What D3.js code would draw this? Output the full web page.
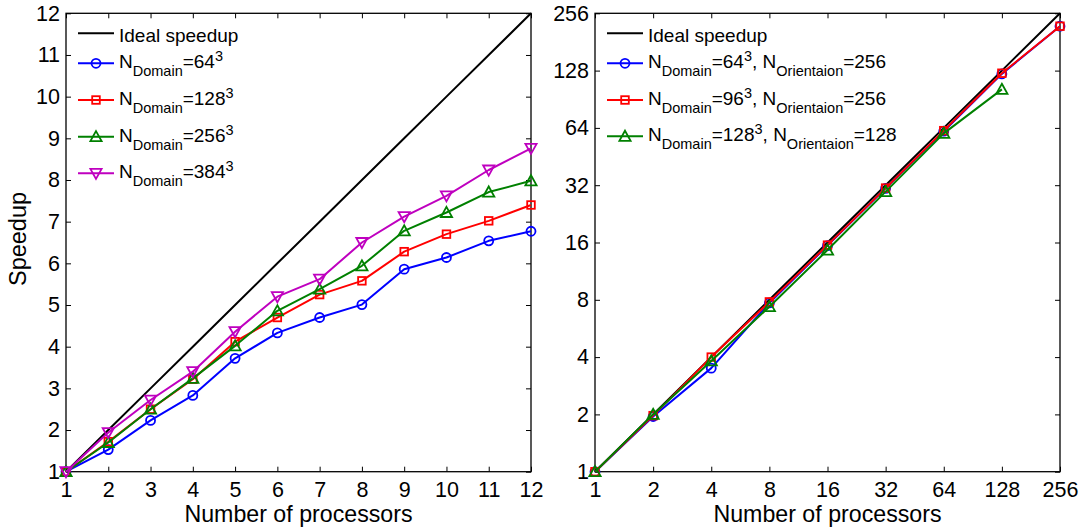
<!DOCTYPE html>
<html>
<head>
<meta charset="utf-8">
<script src="https://d3js.org/d3.v7.min.js"></script>
<style>
  html, body { margin: 0; padding: 0; background: #fff; }
  svg text { font-family: "Liberation Sans", Arial, sans-serif; fill: #000; }
</style>
</head>
<body>
<svg id="chart" width="1085" height="529"></svg>
<script>
// ---------- data ----------
const procsLeft = [1, 2, 3, 4, 5, 6, 7, 8, 9, 10, 11, 12];
const speedup64 = [1, 1.53, 2.23, 2.83, 3.72, 4.33, 4.70, 5.01, 5.86, 6.14, 6.54, 6.77];
const speedup128 = [1, 1.72, 2.50, 3.22, 4.12, 4.70, 5.25, 5.58, 6.28, 6.70, 7.02, 7.40];
const speedup256 = [1, 1.70, 2.50, 3.24, 4.02, 4.86, 5.38, 5.94, 6.78, 7.22, 7.71, 7.98];
const speedup384 = [1, 1.94, 2.72, 3.40, 4.36, 5.20, 5.62, 6.50, 7.12, 7.62, 8.24, 8.76];
const leftTicksX = [1, 2, 3, 4, 5, 6, 7, 8, 9, 10, 11, 12];
const leftTicksY = [1, 2, 3, 4, 5, 6, 7, 8, 9, 10, 11, 12];

const procsRight = [1, 2, 4, 8, 16, 32, 64, 128, 256];
const rSpeedup64 = [1, 1.95, 3.5, 7.7, 15.4, 30.8, 61.5, 123, 219];
const rSpeedup96 = [1, 1.97, 4.0, 7.8, 15.5, 30.9, 61.9, 124, 219];
const procsRight128 = [1, 2, 4, 8, 16, 32, 64, 128];
const rSpeedup128 = [1, 2.0, 3.82, 7.36, 14.6, 29.6, 59.9, 102];
const rightTicks = [1, 2, 4, 8, 16, 32, 64, 128, 256];

const leftLegend = ["64", "128", "256", "384"];
const rightLegendDomain = ["64", "96", "128"];
const rightLegendOrient = ["256", "256", "128"];

// ---------- setup ----------
const svg = d3.select("#chart");
const TOP = 13.3, BOTTOM = 471.7;
const colors = { blue: "#0000ff", red: "#ff0000", green: "#008000", mag: "#bf00bf" };

const xL = d3.scaleLinear().domain([1, 12]).range([66, 531]);
const yL = d3.scaleLinear().domain([1, 12]).range([BOTTOM, TOP]);
const xR = d3.scaleLog().base(2).domain([1, 256]).range([595, 1060]);
const yR = d3.scaleLog().base(2).domain([1, 256]).range([BOTTOM, TOP]);

function drawAxes(x, y, tx, ty) {
  const g = svg.append("g");
  const [x0, x1] = x.range();
  g.append("g").attr("transform", `translate(0,${BOTTOM})`)
    .call(d3.axisBottom(x).tickValues(tx).tickFormat(d3.format("d")).tickSize(-5).tickPadding(10.5));
  g.append("g").attr("transform", `translate(0,${TOP})`)
    .call(d3.axisTop(x).tickValues(tx).tickFormat("").tickSize(-5));
  g.append("g").attr("transform", `translate(${x0},0)`)
    .call(d3.axisLeft(y).tickValues(ty).tickFormat(d3.format("d")).tickSize(-5).tickPadding(6));
  g.append("g").attr("transform", `translate(${x1},0)`)
    .call(d3.axisRight(y).tickValues(ty).tickFormat("").tickSize(-5));
  g.selectAll(".domain").remove();
  g.selectAll(".tick line").attr("stroke", "#000").attr("stroke-width", 1);
  g.selectAll(".tick text").attr("font-size", 21.5).attr("fill", "#000")
    .style("font-family", '"Liberation Sans", Arial, sans-serif');
  g.append("rect").attr("x", x0).attr("y", TOP).attr("width", x1 - x0).attr("height", BOTTOM - TOP)
    .attr("fill", "none").attr("stroke", "#000").attr("stroke-width", 1.3);
}

function marker(g, type, cx, cy, color) {
  if (type === "circle") {
    g.append("circle").attr("cx", cx).attr("cy", cy).attr("r", 4.5)
      .attr("fill", "none").attr("stroke", color).attr("stroke-width", 1.8);
  } else if (type === "square") {
    g.append("rect").attr("x", cx - 3.8).attr("y", cy - 3.8).attr("width", 7.6).attr("height", 7.6)
      .attr("fill", "none").attr("stroke", color).attr("stroke-width", 1.8);
  } else if (type === "up") {
    const s = 5.6;
    g.append("path").attr("d", `M${cx},${cy - s} L${cx + s},${cy + s * 0.8} L${cx - s},${cy + s * 0.8} Z`)
      .attr("fill", "none").attr("stroke", color).attr("stroke-width", 1.8);
  } else if (type === "down") {
    const s = 5.6;
    g.append("path").attr("d", `M${cx},${cy + s} L${cx + s},${cy - s * 0.8} L${cx - s},${cy - s * 0.8} Z`)
      .attr("fill", "none").attr("stroke", color).attr("stroke-width", 1.8);
  }
}

function series(x, y, xs, ys, color, mk) {
  const g = svg.append("g");
  const line = d3.line().x((d, i) => x(xs[i])).y(d => y(d));
  g.append("path").datum(ys).attr("d", line).attr("fill", "none")
    .attr("stroke", color).attr("stroke-width", 2).attr("stroke-linejoin", "round");
  ys.forEach((v, i) => marker(g, mk, x(xs[i]), y(v), color));
}

// ---------- left panel ----------
drawAxes(xL, yL, leftTicksX, leftTicksY);
svg.append("path").datum(procsLeft)
  .attr("d", d3.line().x(d => xL(d)).y(d => yL(d)))
  .attr("fill", "none").attr("stroke", "#000").attr("stroke-width", 2);
series(xL, yL, procsLeft, speedup64, colors.blue, "circle");
series(xL, yL, procsLeft, speedup128, colors.red, "square");
series(xL, yL, procsLeft, speedup256, colors.green, "up");
series(xL, yL, procsLeft, speedup384, colors.mag, "down");

// ---------- right panel ----------
drawAxes(xR, yR, rightTicks, rightTicks);
svg.append("path").datum(procsRight)
  .attr("d", d3.line().x(d => xR(d)).y(d => yR(d)))
  .attr("fill", "none").attr("stroke", "#000").attr("stroke-width", 2);
series(xR, yR, procsRight, rSpeedup64, colors.blue, "circle");
series(xR, yR, procsRight, rSpeedup96, colors.red, "square");
series(xR, yR, procsRight128, rSpeedup128, colors.green, "up");

// ---------- axis titles ----------
svg.append("text").attr("x", (xL.range()[0] + xL.range()[1]) / 2).attr("y", 522)
  .attr("text-anchor", "middle").attr("font-size", 23.2).text("Number of processors");
svg.append("text").attr("x", (xR.range()[0] + xR.range()[1]) / 2).attr("y", 522)
  .attr("text-anchor", "middle").attr("font-size", 23.2).text("Number of processors");
svg.append("text").attr("transform", "translate(26,239) rotate(-90)")
  .attr("text-anchor", "middle").attr("font-size", 23.5).text("Speedup");

// ---------- legends ----------
function legendRow(lx, tx, ly, color, mk, build) {
  const g = svg.append("g");
  g.append("line").attr("x1", lx).attr("x2", lx + 36).attr("y1", ly).attr("y2", ly)
    .attr("stroke", color).attr("stroke-width", 2);
  if (mk) marker(g, mk, lx + 18, ly, color);
  const t = g.append("text").attr("x", tx).attr("y", ly + 5).attr("font-size", 19);
  build(t);
}
function nDomain(t, val) {
  t.append("tspan").text("N");
  t.append("tspan").attr("font-size", 14.5).attr("dy", 8).text("Domain");
  t.append("tspan").attr("dy", -8).text("=" + val);
  t.append("tspan").attr("font-size", 14.5).attr("dy", -7).text("3");
}

const leftRowsY = [63.3, 100, 136.7, 173.3];
const leftMk = ["circle", "square", "up", "down"];
const leftCol = [colors.blue, colors.red, colors.green, colors.mag];
legendRow(78, 119, 33.3, "#000", null, t => { t.attr("y", 41.5).text("Ideal speedup"); });
leftLegend.forEach((v, i) => legendRow(78, 119, leftRowsY[i], leftCol[i], leftMk[i], t => nDomain(t, v)));

const rightRowsY = [63.3, 100, 136.3];
const rightMk = ["circle", "square", "up"];
const rightCol = [colors.blue, colors.red, colors.green];
legendRow(607, 648, 33.3, "#000", null, t => { t.attr("y", 41.5).text("Ideal speedup"); });
rightLegendDomain.forEach((v, i) => legendRow(607, 648, rightRowsY[i], rightCol[i], rightMk[i], t => {
  nDomain(t, v);
  t.append("tspan").attr("dy", 7).text(", N");
  t.append("tspan").attr("font-size", 14.5).attr("dy", 8).text("Orientaion");
  t.append("tspan").attr("dy", -8).text("=" + rightLegendOrient[i]);
}));
</script>
</body>
</html>
